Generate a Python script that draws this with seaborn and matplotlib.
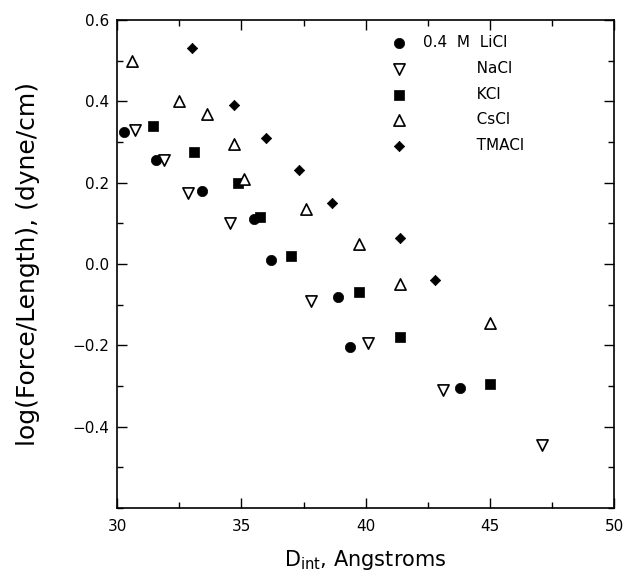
import matplotlib
matplotlib.use("Agg")
import matplotlib.pyplot as plt
import seaborn as sns
import pandas as pd
from matplotlib.ticker import MultipleLocator, FixedLocator

# D_int (Angstrom) and log(force/length)
licl_x = [30.25, 31.55, 33.4, 35.5, 36.2, 38.9, 39.35, 43.8]
licl_y = [0.325, 0.255, 0.18, 0.11, 0.01, -0.08, -0.205, -0.305]
nacl_x = [30.7, 31.9, 32.85, 34.55, 37.8, 40.1, 43.1, 47.1]
nacl_y = [0.33, 0.255, 0.175, 0.10, -0.09, -0.195, -0.31, -0.445]
kcl_x = [31.45, 33.1, 34.85, 35.75, 37.0, 39.75, 41.4, 45.0]
kcl_y = [0.34, 0.275, 0.20, 0.115, 0.02, -0.07, -0.18, -0.295]
cscl_x = [30.6, 32.5, 33.6, 34.7, 35.1, 37.6, 39.75, 41.4, 45.0]
cscl_y = [0.50, 0.40, 0.37, 0.295, 0.21, 0.135, 0.05, -0.05, -0.145]
tmacl_x = [33.0, 34.7, 36.0, 37.3, 38.65, 41.4, 42.8]
tmacl_y = [0.53, 0.39, 0.31, 0.23, 0.15, 0.065, -0.04]

labels = ["0.4  M  LiCl", "NaCl", "KCl", "CsCl", "TMACl"]

sns.set_theme(style="ticks")
plt.rcParams["font.family"] = ["DejaVu Sans"]
plt.rcParams["text.color"] = "black"
plt.rcParams["axes.labelcolor"] = "black"

fig = plt.figure(figsize=(6.25, 5.73), dpi=100)
ax = fig.add_axes([0.1877, 0.1134, 0.7947, 0.8517])

series = [
    (licl_x, licl_y, dict(marker="o", s=55, color="black", edgecolor="black", linewidth=0.5)),
    (nacl_x, nacl_y, dict(marker="v", s=65, facecolor="white", edgecolor="black", linewidth=1.2)),
    (kcl_x, kcl_y, dict(marker="s", s=42, color="black", edgecolor="black", linewidth=0.5)),
    (cscl_x, cscl_y, dict(marker="^", s=65, facecolor="white", edgecolor="black", linewidth=1.2)),
    (tmacl_x, tmacl_y, dict(marker="D", s=28, color="black", edgecolor="black", linewidth=0.5)),
]
for (xs, ys, kw), lab in zip(series, labels):
    df = pd.DataFrame({"x": xs, "y": ys})
    sns.scatterplot(data=df, x="x", y="y", ax=ax, label=lab, zorder=3, **kw)

ax.set_xlim(30, 50)
ax.set_ylim(-0.6, 0.6)
ax.xaxis.set_major_locator(MultipleLocator(5))
ax.xaxis.set_minor_locator(MultipleLocator(2.5))
ax.yaxis.set_major_locator(FixedLocator([-0.4, -0.2, 0.0, 0.2, 0.4, 0.6]))
ax.yaxis.set_minor_locator(MultipleLocator(0.1))
ax.yaxis.set_major_formatter(plt.FuncFormatter(lambda v, p: f"{v:.1f}".replace("-", "\u2212")))
ax.tick_params(which="both", direction="in", top=True, right=True, labelsize=11, width=1, colors="black")
ax.tick_params(which="major", length=7)
ax.tick_params(which="minor", length=4)
ax.tick_params(axis="x", which="major", pad=8)
ax.tick_params(axis="y", which="major", pad=6)
for sp in ax.spines.values():
    sp.set_visible(True)
    sp.set_linewidth(1.2)
    sp.set_color("black")

ax.set_xlabel(r"D$_{\mathrm{int}}$, Angstroms", fontsize=15, labelpad=10)
ax.set_ylabel("log(Force/Length), (dyne/cm)", fontsize=18)
ax.yaxis.set_label_coords(-0.155, 0.5)

handles, labs = ax.get_legend_handles_labels()
pad = " " * 11
labs = [labs[0]] + [pad + l for l in labs[1:]]
ax.legend(handles, labs, loc="upper left", bbox_to_anchor=(0.505, 1.0), frameon=False,
          fontsize=11, labelspacing=0.7, handletextpad=0.6, borderpad=0.5)

fig.savefig("out.png", dpi=100)
